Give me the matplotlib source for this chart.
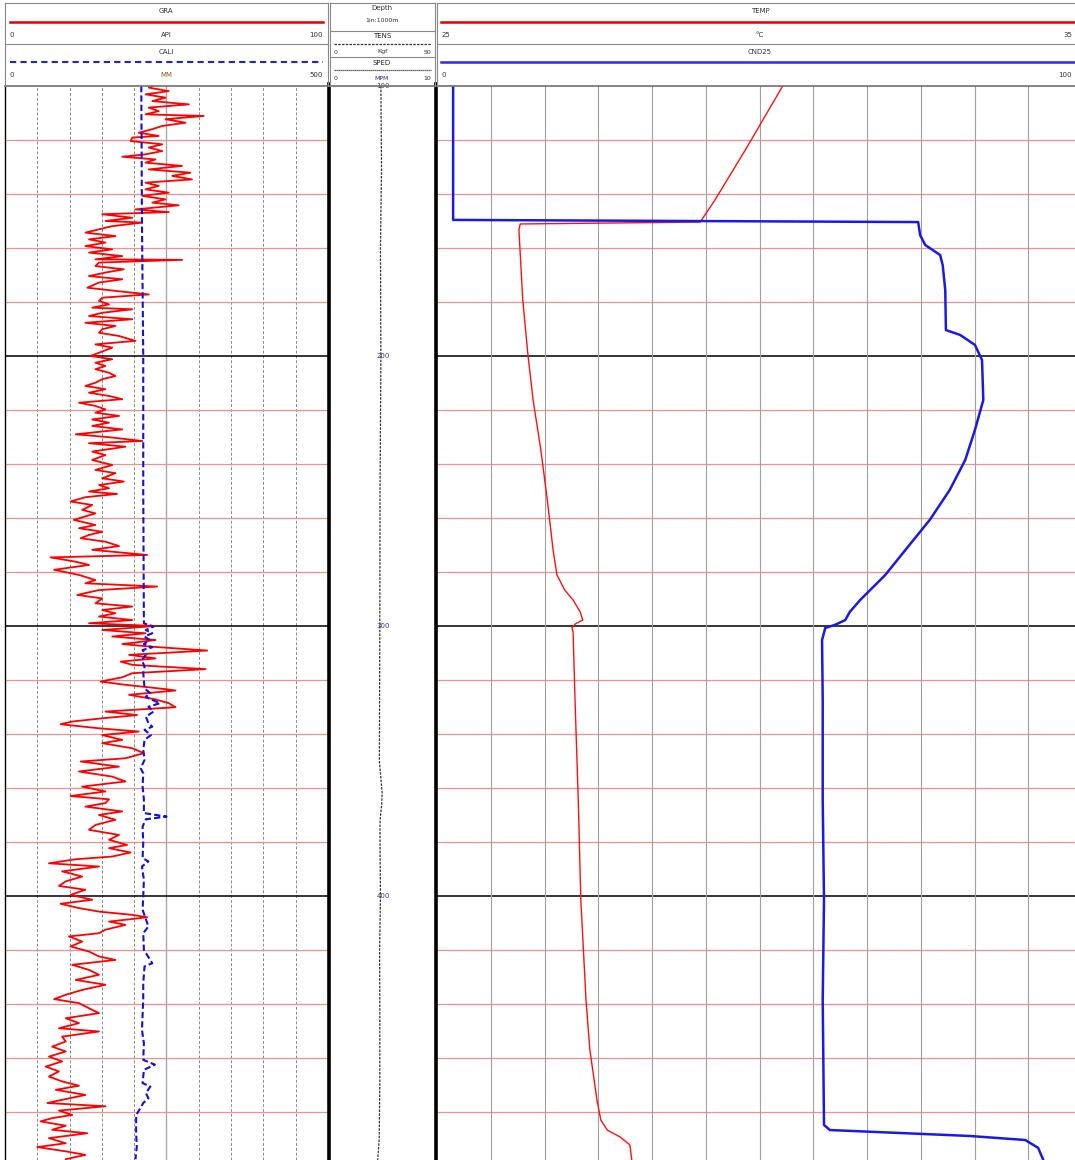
import matplotlib
matplotlib.use("Agg")
import matplotlib.pyplot as plt
from matplotlib.lines import Line2D

# ---------------- data ----------------
gra_depth = [100.0, 100.6, 101.9, 103.1, 104.3, 105.6, 106.8, 108.0, 109.3, 110.5, 111.1, 112.3, 113.6, 114.8,
             116.0, 117.3, 118.5, 119.1, 120.4, 121.6, 122.8, 124.1, 125.3, 126.2, 127.2, 128.4, 129.6, 130.9,
             132.1, 133.3, 134.6, 135.8, 137.0, 138.3, 139.5, 140.7, 142.0, 143.2, 144.2, 145.7, 146.7, 147.5,
             148.8, 150.0, 150.6, 151.9, 153.1, 154.3, 155.6, 156.8, 158.0, 159.3, 160.5, 161.7, 163.0, 164.2,
             164.4, 165.4, 166.7, 167.9, 169.1, 170.4, 171.6, 172.8, 174.7, 175.9, 177.2, 178.4, 179.6, 180.9,
             182.1, 182.7, 184.0, 185.2, 186.4, 187.7, 188.9, 190.1, 191.4, 192.6, 194.4, 195.7, 196.9, 198.8,
             200.0, 201.2, 202.5, 203.7, 204.9, 206.2, 207.4, 208.6, 209.9, 211.1, 212.3, 213.6, 214.8, 216.0,
             217.3, 218.5, 219.8, 221.0, 222.2, 223.5, 224.7, 225.9, 227.2, 229.0, 230.2, 231.5, 232.3, 233.6,
             235.4, 236.7, 238.5, 240.4, 242.2, 243.4, 245.3, 246.5, 247.8, 249.0, 250.2, 251.1, 252.3, 253.9,
             255.2, 257.0, 258.3, 260.7, 262.6, 263.8, 265.1, 266.3, 267.5, 268.8, 270.4, 271.8, 273.7, 274.6,
             276.2, 277.4, 279.2, 281.1, 283.0, 284.2, 285.4, 286.7, 288.5, 289.8, 291.6, 292.8, 294.1, 295.3,
             296.5, 297.8, 299.0, 300.0, 301.5, 302.7, 303.9, 305.2, 306.7, 307.6, 309.1, 310.7, 312.0, 313.2,
             314.4, 316.0, 317.5, 319.0, 320.6, 321.8, 323.4, 323.9, 325.5, 327.2, 328.6, 330.1, 331.7, 333.0,
             334.2, 335.4, 336.4, 337.9, 339.1, 340.4, 342.2, 343.4, 345.3, 347.1, 349.0, 350.2, 352.1, 353.9,
             355.8, 357.6, 359.5, 361.3, 363.0, 364.2, 365.6, 366.9, 368.7, 370.0, 371.8, 373.7, 375.5, 377.4,
             379.2, 381.1, 382.3, 383.9, 385.4, 386.4, 387.9, 389.1, 390.9, 392.8, 394.6, 396.3, 397.7, 399.6,
             401.4, 402.9, 404.5, 405.8, 407.0, 407.9, 409.5, 410.7, 412.5, 413.8, 415.0, 416.9, 418.7, 420.6,
             422.4, 423.7, 425.5, 427.4, 429.2, 431.1, 432.9, 434.8, 436.6, 438.2, 439.7, 441.6, 443.4, 445.3,
             447.1, 449.0, 450.2, 452.1, 453.9, 455.8, 457.6, 459.5, 461.3, 463.2, 465.0, 466.9, 468.7, 470.3,
             471.8, 473.7, 475.5, 476.7, 477.9, 479.5, 481.1, 482.3, 483.5, 485.1, 486.6, 487.9, 489.7, 491.6,
             493.0, 494.6, 495.9, 497.5]
gra_api = [45.6, 44.5, 50.7, 43.5, 49.7, 45.6, 56.9, 44.5, 47.6, 43.5, 61.5, 49.7, 55.9, 48.7,
           45.6, 41.4, 47.6, 39.4, 38.9, 48.7, 44.5, 48.7, 43.5, 36.3, 46.6, 43.5, 54.8, 44.5,
           57.4, 51.8, 57.9, 43.5, 47.6, 43.5, 50.7, 42.5, 49.7, 45.6, 53.8, 40.4, 50.7, 30.1,
           39.4, 31.1, 42.5, 33.2, 29.1, 24.9, 34.2, 26.0, 31.1, 24.9, 33.2, 26.0, 36.3, 28.0,
           54.8, 29.1, 28.0, 36.8, 31.1, 26.0, 36.3, 29.1, 25.5, 34.2, 44.5, 30.1, 29.1, 32.2,
           27.0, 39.4, 30.1, 26.0, 39.4, 24.9, 34.2, 30.1, 29.1, 35.3, 40.4, 28.0, 33.2, 29.1,
           26.5, 33.2, 28.0, 31.1, 28.0, 32.2, 34.2, 30.1, 28.0, 24.9, 31.1, 26.0, 32.2, 36.3,
           22.9, 28.0, 31.1, 28.0, 35.3, 27.0, 32.2, 27.0, 36.3, 21.9, 33.2, 42.5, 26.0, 37.3,
           27.0, 31.1, 27.0, 33.2, 28.0, 34.2, 30.1, 36.8, 29.1, 32.2, 26.0, 34.7, 24.9, 20.3,
           27.0, 23.9, 28.0, 21.3, 28.0, 22.9, 30.1, 26.0, 23.4, 31.1, 35.3, 27.0, 44.0, 14.1,
           21.9, 26.0, 15.2, 22.9, 28.0, 24.9, 47.1, 29.1, 22.4, 30.1, 28.0, 39.4, 30.1, 34.2,
           29.1, 39.4, 26.0, 46.6, 30.1, 43.5, 33.2, 46.6, 36.3, 44.5, 62.6, 38.4, 46.6, 35.8,
           39.4, 62.1, 39.4, 36.3, 29.6, 37.3, 49.7, 52.8, 38.4, 46.6, 50.7, 52.8, 31.1, 40.9,
           30.1, 20.8, 17.2, 29.1, 41.4, 30.1, 36.3, 30.1, 39.4, 43.0, 37.3, 23.4, 35.3, 22.9,
           33.2, 37.3, 23.9, 31.1, 20.3, 32.2, 31.1, 24.9, 36.3, 29.1, 34.2, 28.0, 26.0, 35.3,
           32.2, 37.8, 32.2, 38.9, 33.2, 21.9, 13.6, 29.1, 17.7, 23.9, 18.8, 16.7, 24.9, 20.3,
           27.0, 17.2, 22.9, 29.1, 39.4, 44.0, 32.2, 37.3, 31.1, 29.1, 19.8, 23.9, 20.3, 26.0,
           29.1, 34.2, 20.8, 26.0, 29.1, 21.9, 31.1, 23.9, 18.8, 15.2, 22.9, 26.0, 29.1, 18.8,
           22.9, 16.7, 29.1, 17.7, 18.8, 14.6, 18.8, 13.6, 17.7, 12.6, 16.7, 13.6, 17.7, 22.9,
           15.7, 24.9, 17.7, 13.1, 31.1, 16.7, 20.8, 14.6, 11.0, 18.8, 14.6, 25.5, 13.6, 18.8,
           10.0, 18.8, 24.9, 18.8]

cali_depth = [100.0, 150.0, 200.0, 250.0, 299.0, 300.2, 301.5, 302.7, 303.9, 305.2, 306.7, 307.9, 308.9,
              310.7, 312.6, 315.1, 317.5, 320.0, 323.1, 324.9, 326.2, 327.4, 328.6, 329.9, 331.7, 333.6,
              336.0, 337.3, 338.5, 340.4, 342.2, 345.9, 349.6, 352.7, 354.6, 359.5, 364.2, 369.3, 370.6,
              371.6, 374.3, 380.4, 386.0, 387.2, 389.1, 394.0, 400.2, 405.1, 411.3, 413.8, 420.0, 424.9,
              426.1, 432.3, 438.5, 449.6, 454.5, 460.7, 462.5, 464.4, 469.3, 470.6, 473.0, 474.9, 476.7,
              479.2, 481.1, 487.9, 492.8, 497.5]
cali_mm = [211, 212, 214, 214, 215, 230, 218, 228, 216, 224, 215, 228, 213,
           218, 212, 216, 214, 215, 216, 225, 218, 228, 240, 222, 230, 218,
           222, 228, 216, 226, 216, 214, 216, 210, 214, 213, 215, 215, 250,
           218, 213, 214, 213, 222, 212, 215, 214, 213, 222, 214, 215, 228,
           216, 214, 214, 212, 215, 214, 232, 215, 213, 225, 218, 222, 214,
           208, 203, 203, 204, 202]

tens_depth = [100, 130, 160, 200, 250, 300, 350, 362, 366, 372, 380, 400, 420, 440, 470, 490, 497.8]
tens_kgf = [24.0, 24.3, 23.8, 24.0, 23.6, 23.5, 23.3, 24.6, 24.4, 23.6, 23.6, 23.8, 23.4, 23.5, 23.5, 23.2, 22.5]

temp_depth = [100.0, 123.7, 142.2, 150.4, 151.1, 153.3, 179.3, 199.6, 216.3, 234.8, 253.3, 271.9, 281.1,
              286.7, 290.4, 294.8, 297.8, 299.3, 300.7, 302.2, 327.4, 364.4, 401.5, 438.5, 457.0, 475.6,
              483.0, 486.7, 489.3, 492.2, 497.8]
temp_c = [30.36, 29.78, 29.31, 29.08, 26.29, 26.27, 26.33, 26.41, 26.49, 26.61, 26.71, 26.80, 26.86,
          26.98, 27.11, 27.22, 27.26, 27.14, 27.09, 27.11, 27.14, 27.19, 27.23, 27.31, 27.37, 27.48,
          27.54, 27.64, 27.84, 27.99, 28.02]

cnd_depth = [100.0, 149.6, 150.4, 155.2, 158.9, 162.6, 166.3, 175.6, 190.4, 192.2, 195.9, 201.5, 216.3,
             227.4, 238.5, 249.6, 260.7, 271.9, 281.1, 290.4, 294.8, 297.8, 299.6, 300.7, 305.2, 327.4,
             364.4, 401.5, 438.5, 484.8, 486.7, 487.8, 488.9, 490.4, 493.3, 497.8]
cnd25 = [2.5, 2.5, 74.6, 74.9, 75.7, 78.0, 78.4, 78.8, 78.9, 81.1, 83.4, 84.5, 84.7,
         83.4, 81.9, 79.5, 76.4, 72.6, 69.5, 65.6, 64.0, 63.3, 61.7, 60.2, 59.7, 59.8,
         59.8, 60.0, 59.8, 60.0, 60.9, 71.8, 82.6, 91.2, 93.2, 94.0]

depth_labels = [100, 200, 300, 400]
minor_depths = [120, 140, 160, 180, 220, 240, 260, 280, 320, 340, 360, 380, 420, 440, 460, 480]
major_depths = [200, 300, 400]
top_depth, bottom_depth = 100.0, 497.8

# ---------------- layout ----------------
W, H = 1075, 1160
fig = plt.figure(figsize=(W / 100, H / 100), dpi=100)
plt.rcParams['font.family'] = ['DejaVu Sans']


def rect(x0, x1, y0, y1):
    return [x0 / W, 1 - y1 / H, (x1 - x0) / W, (y1 - y0) / H]


DATA_TOP = 86
ax1 = fig.add_axes(rect(5, 328, DATA_TOP, H))
axd = fig.add_axes(rect(330, 436, DATA_TOP, H))
ax3 = fig.add_axes(rect(437, 1082, DATA_TOP, H))

minor_c = '#f29090'
for ax in (ax1, axd, ax3):
    ax.set_ylim(bottom_depth, top_depth)
    ax.set_xticks([])
    ax.set_yticks([])
    for s in ax.spines.values():
        s.set_visible(False)

# track 1 grid
ax1.set_xlim(0, 100)
for v in range(10, 100, 10):
    if v == 50:
        ax1.axvline(v, color='#a8a8a8', lw=1.0, zorder=1)
    else:
        ax1.axvline(v, color='#8a8a8a', lw=0.7, ls=(0, (3, 2)), zorder=1)
for d in minor_depths:
    ax1.axhline(d, color=minor_c, lw=0.9, zorder=1)
    ax3.axhline(d, color=minor_c, lw=0.9, zorder=1)
for d in major_depths:
    ax1.axhline(d, color='black', lw=1.1, zorder=1)
    ax3.axhline(d, color='black', lw=1.1, zorder=1)

ax1.plot(gra_api, gra_depth, color='#ff0000', lw=1.3, zorder=3)
axc = ax1.twiny()
axc.set_xlim(0, 500)
axc.set_ylim(bottom_depth, top_depth)
axc.axis('off')
axc.plot(cali_mm, cali_depth, color='#1010e0', lw=1.5, ls=(0, (3, 1.5)), zorder=4)
ax1.spines['left'].set_visible(True)
ax1.spines['left'].set_linewidth(1.0)

# depth track
axd.set_xlim(0, 50)
axd.plot(tens_kgf, tens_depth, color='#333333', lw=0.9, ls=(0, (2, 1)))
for d in depth_labels:
    axd.text(25, d, str(d), ha='center', va='center', fontsize=5, color='#3a3a80',
             clip_on=False)

# track 3
ax3.set_xlim(25, 35)
for k in range(1, 12):
    ax3.axvline(25 + k * 10 / 12, color='#a0a0a0', lw=0.8, zorder=1)
ax3.plot(temp_c, temp_depth, color='#ff1010', lw=1.0, zorder=3)
axn = ax3.twiny()
axn.set_xlim(0, 100)
axn.set_ylim(bottom_depth, top_depth)
axn.axis('off')
axn.plot(cnd25, cnd_depth, color='#1a1ae6', lw=1.8, zorder=4)

# ---------------- overlay: borders and header ----------------
ov = fig.add_axes([0, 0, 1, 1], zorder=10)
ov.set_xlim(0, W)
ov.set_ylim(H, 0)
ov.axis('off')
ov.patch.set_alpha(0)

grey = '#888888'
txt = '#333333'
fs = 5

# thick separators in data area
ov.add_line(Line2D([329, 329], [84, H], color='black', lw=2.6))
ov.add_line(Line2D([436, 436], [84, H], color='black', lw=2.6))
# top border of data area
ov.add_line(Line2D([5, 1075], [85.5, 85.5], color='#707070', lw=1.2))

# header boxes
for x0, x1 in [(5, 328), (330, 435), (437, 1082)]:
    ov.add_line(Line2D([x0, x1], [3, 3], color=grey, lw=0.8))
    ov.add_line(Line2D([x0, x0], [3, 86], color=grey, lw=0.8))
    ov.add_line(Line2D([x1, x1], [3, 86], color=grey, lw=0.8))

# track 1 header
ov.add_line(Line2D([5, 328], [44, 44], color=grey, lw=0.8))
ov.text(166, 11, 'GRA', ha='center', va='center', fontsize=fs, color=txt)
ov.add_line(Line2D([10, 323], [22, 22], color='#e00000', lw=1.8))
ov.text(10, 35, '0', ha='left', va='center', fontsize=fs, color=txt)
ov.text(166, 35, 'API', ha='center', va='center', fontsize=fs, color=txt)
ov.text(323, 35, '100', ha='right', va='center', fontsize=fs, color=txt)
ov.text(166, 52, 'CALI', ha='center', va='center', fontsize=fs, color=txt)
ov.add_line(Line2D([10, 323], [62, 62], color='#2020e0', lw=1.5, ls=(0, (3, 2))))
ov.text(10, 75, '0', ha='left', va='center', fontsize=fs, color=txt)
ov.text(166, 75, 'MM', ha='center', va='center', fontsize=fs, color='#8a5a20')
ov.text(323, 75, '500', ha='right', va='center', fontsize=fs, color=txt)

# depth header
ov.text(382, 8, 'Depth', ha='center', va='center', fontsize=fs, color=txt)
ov.text(382, 21, '1in:1000m', ha='center', va='center', fontsize=fs - 0.5, color=txt)
ov.add_line(Line2D([330, 435], [31, 31], color=grey, lw=0.8))
ov.text(382, 36.5, 'TENS', ha='center', va='center', fontsize=fs, color='#222222')
ov.add_line(Line2D([334, 431], [44, 44], color='#333333', lw=0.9, ls=(0, (2, 1))))
ov.text(334, 52, '0', ha='left', va='center', fontsize=fs - 0.5, color=txt)
ov.text(382, 52, 'Kgf', ha='center', va='center', fontsize=fs - 0.5, color=txt)
ov.text(431, 52, '50', ha='right', va='center', fontsize=fs - 0.5, color=txt)
ov.add_line(Line2D([330, 435], [57, 57], color=grey, lw=0.8))
ov.text(382, 63, 'SPED', ha='center', va='center', fontsize=fs, color='#222222')
ov.add_line(Line2D([334, 431], [70, 70], color='#333333', lw=0.9, ls=(0, (1, 0.6))))
ov.text(334, 79, '0', ha='left', va='center', fontsize=fs - 0.5, color=txt)
ov.text(382, 79, 'MPM', ha='center', va='center', fontsize=fs - 0.5, color='#303070')
ov.text(431, 79, '10', ha='right', va='center', fontsize=fs - 0.5, color=txt)

# track 3 header
ov.add_line(Line2D([437, 1082], [44, 44], color=grey, lw=0.8))
ov.text(760, 11, 'TEMP', ha='center', va='center', fontsize=fs, color=txt)
ov.add_line(Line2D([441, 1078], [22, 22], color='#e00000', lw=1.8))
ov.text(442, 35, '25', ha='left', va='center', fontsize=fs, color=txt)
ov.text(760, 35, '°C', ha='center', va='center', fontsize=fs, color=txt)
ov.text(1072, 35, '35', ha='right', va='center', fontsize=fs, color=txt)
ov.text(760, 52, 'CND25', ha='center', va='center', fontsize=fs, color=txt)
ov.add_line(Line2D([441, 1078], [62, 62], color='#2a2ae6', lw=1.8))
ov.text(442, 75, '0', ha='left', va='center', fontsize=fs, color=txt)
ov.text(1072, 75, '100', ha='right', va='center', fontsize=fs, color=txt)

fig.savefig('out.png', dpi=100)
